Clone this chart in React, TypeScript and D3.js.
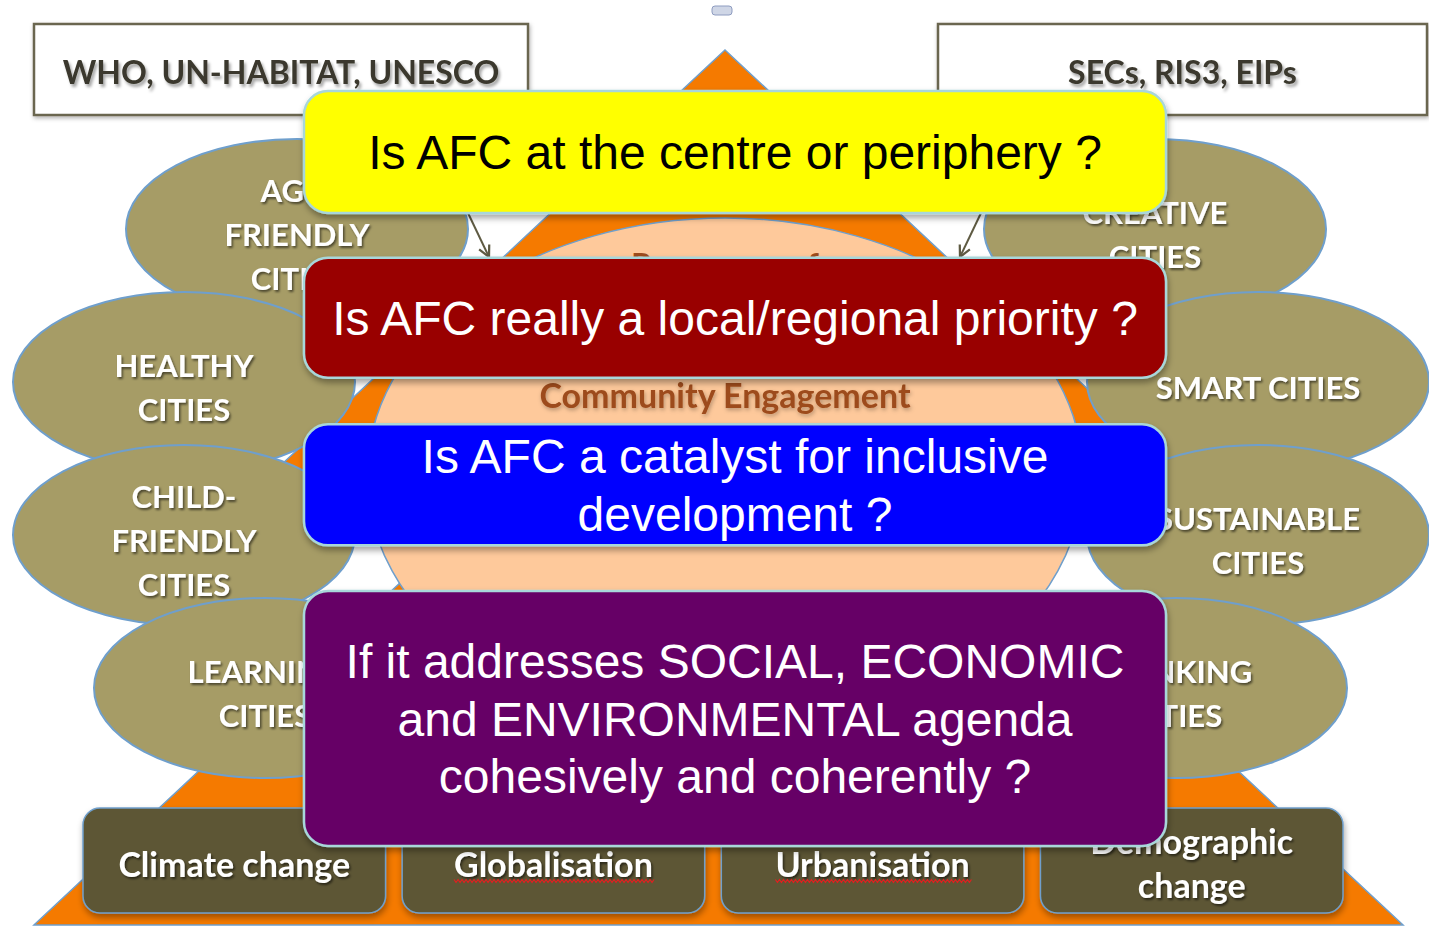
import React, { useEffect, useRef } from 'react';
import * as d3 from 'd3';

// Text
const topBodies = ['WHO, UN-HABITAT, UNESCO', 'SECs, RIS3, EIPs'];
const leftCities = [['AGE-', 'FRIENDLY', 'CITIES'], ['HEALTHY', 'CITIES'], ['CHILD-', 'FRIENDLY', 'CITIES'], ['LEARNING', 'CITIES']];
const rightCities = [['CREATIVE', 'CITIES'], ['SMART CITIES'], ['SUSTAINABLE', 'CITIES'], ['THINKING', 'CITIES']];
const coreHeading = 'Resources of';
const coreLabel = 'Community Engagement';
const questions = [
  ['Is AFC at the centre or periphery ?'],
  ['Is AFC really a local/regional priority ?'],
  ['Is AFC a catalyst for inclusive', 'development ?'],
  ['If it addresses SOCIAL, ECONOMIC', 'and ENVIRONMENTAL agenda', 'cohesively and coherently ?'],
];
const drivers = [['Climate change'], ['Globalisation'], ['Urbanisation'], ['Demographic', 'change']];
const misspelt = ['Globalisation', 'Urbanisation'];

// Layout + styling (kept apart from the text above)
const W = 1429;
const H = 927;
const OLIVE = '#a69c66';
const EDGE = '#6f9fcc';
const ORANGE = '#f57a00';
const PEACH = '#fec99b';
const qFills = ['#ffff00', '#990000', '#0000ff', '#660066'];
const qText = ['#000000', '#ffffff', '#ffffff', '#ffffff'];
const qHeights = [122, 120, 121, 255];
const leftCx = [297, 184, 184, 265];
const rightCx = [1155, 1258, 1258, 1176];
const LABEL_FONT = 'Lato, "Open Sans", sans-serif';
const Q_FONT = '"Liberation Sans", Arial, sans-serif';

export default function App() {
  const ref = useRef<SVGSVGElement>(null);

  useEffect(() => {
    document.body.style.margin = '0';
    const svg = d3.select(ref.current);
    svg.selectAll('*').remove();

    const defs = svg.append('defs');
    const shadow = (id: string, dx: number, dy: number, sd: number, op: number) =>
      defs.append('filter').attr('id', id)
        .attr('x', '-20%').attr('y', '-40%').attr('width', '140%').attr('height', '180%')
        .append('feDropShadow')
        .attr('dx', dx).attr('dy', dy).attr('stdDeviation', sd)
        .attr('flood-color', '#000').attr('flood-opacity', op);
    shadow('txtShadow', 1.5, 2, 1.2, 0.55);
    shadow('darkTxtShadow', 2, 3, 1.8, 0.35);
    shadow('boxShadow', 1, 4, 3, 0.35);
    shadow('smallShadow', 1, 2, 2, 0.3);

    defs.append('marker').attr('id', 'arrowHead')
      .attr('viewBox', '0 0 10 10').attr('refX', 9).attr('refY', 5)
      .attr('markerWidth', 14).attr('markerHeight', 14).attr('markerUnits', 'userSpaceOnUse')
      .attr('orient', 'auto')
      .append('path').attr('d', 'M1,1 L9,5 L1,9')
      .attr('fill', 'none').attr('stroke', '#5e5a42').attr('stroke-width', 1.6);

    // tiny handle at the top of the slide
    svg.append('rect').attr('x', 712).attr('y', 6).attr('width', 20).attr('height', 9).attr('rx', 3)
      .attr('fill', '#cfd6e6').attr('stroke', '#8e9cc0').attr('stroke-width', 1);

    // orange pyramid (two overlapping triangles)
    const poly = d3.line();
    const slope = 1.07;
    const lowerTri: [number, number][] = [[718.5, 925 - 684.5 / slope], [1403, 925], [34, 925]];
    const upperTri: [number, number][] = [[725, 50], [725 + slope * 450, 500], [725 - slope * 450, 500]];
    [lowerTri, upperTri].forEach(pts => {
      svg.append('path').attr('d', poly(pts) + 'Z')
        .attr('fill', ORANGE).attr('stroke', EDGE).attr('stroke-width', 1.5);
    });

    // peach core
    svg.append('ellipse').attr('cx', 725).attr('cy', 476).attr('rx', 358).attr('ry', 258)
      .attr('fill', PEACH).attr('stroke', EDGE).attr('stroke-width', 1.5);
    // heading mostly hidden behind the red box
    svg.append('text').attr('x', 725).attr('y', 277).attr('text-anchor', 'middle')
      .style('font-family', LABEL_FONT).style('font-weight', 700).style('font-size', '33px')
      .attr('fill', '#9d4c1d').text(coreHeading);
    svg.append('text').attr('x', 725).attr('y', 408).attr('text-anchor', 'middle')
      .style('font-family', LABEL_FONT).style('font-weight', 700).style('font-size', '34px')
      .attr('fill', '#9d4c1d').attr('filter', 'url(#smallShadow)').text(coreLabel);

    // city ellipses, stacked in rows
    const yRow = d3.scalePoint<number>().domain([0, 1, 2, 3]).range([229, 688]);
    const drawColumn = (labels: string[][], cxs: number[]) => {
      labels.forEach((lines, i) => {
        const cy = yRow(i) as number;
        const g = svg.append('g');
        g.append('ellipse').attr('cx', cxs[i]).attr('cy', cy).attr('rx', 171).attr('ry', 90)
          .attr('fill', OLIVE).attr('stroke', EDGE).attr('stroke-width', 2);
        const lh = 44;
        const y0 = cy + 5 - (lh * (lines.length - 1)) / 2;
        lines.forEach((t, j) => {
          g.append('text').attr('x', cxs[i]).attr('y', y0 + j * lh)
            .attr('text-anchor', 'middle').attr('dominant-baseline', 'central')
            .style('font-family', LABEL_FONT).style('font-weight', 700).style('font-size', '31px')
            .attr('fill', '#ffffff').attr('filter', 'url(#txtShadow)').text(t);
        });
      });
    };
    drawColumn(leftCities, leftCx);
    drawColumn(rightCities, rightCx);

    // arrows from the bodies into the pyramid
    [[468, 213, 489, 257], [981, 213, 960, 257]].forEach(([x1, y1, x2, y2]) => {
      svg.append('line').attr('x1', x1).attr('y1', y1).attr('x2', x2).attr('y2', y2)
        .attr('stroke', '#5e5a42').attr('stroke-width', 2).attr('marker-end', 'url(#arrowHead)');
    });

    // top boxes
    const topX = [34, 938];
    const topW = [494, 489];
    topBodies.forEach((t, i) => {
      svg.append('rect').attr('x', topX[i]).attr('y', 24).attr('width', topW[i]).attr('height', 91)
        .attr('fill', '#ffffff').attr('stroke', '#6b6650').attr('stroke-width', 2.5)
        .attr('filter', 'url(#smallShadow)');
      svg.append('text').attr('x', topX[i] + topW[i] / 2).attr('y', 84)
        .attr('text-anchor', 'middle')
        .style('font-family', LABEL_FONT).style('font-weight', 700).style('font-size', '32px')
        .attr('fill', '#3b392d').attr('filter', 'url(#darkTxtShadow)').text(t);
    });

    // bottom driver boxes
    const xDrv = d3.scaleBand<number>().domain(d3.range(drivers.length)).range([83, 1343]).paddingInner(0.052);
    drivers.forEach((lines, i) => {
      const x = xDrv(i) as number;
      const bw = xDrv.bandwidth();
      svg.append('rect').attr('x', x).attr('y', 808).attr('width', bw).attr('height', 105).attr('rx', 17)
        .attr('fill', '#5d5736').attr('stroke', EDGE).attr('stroke-width', 1.5)
        .attr('filter', 'url(#boxShadow)');
      const lh = 44;
      const cy = lines.length > 1 ? 862 : 863;
      const y0 = cy - (lh * (lines.length - 1)) / 2;
      lines.forEach((t, j) => {
        const txt = svg.append('text').attr('x', x + bw / 2).attr('y', y0 + j * lh)
          .attr('text-anchor', 'middle').attr('dominant-baseline', 'central')
          .style('font-family', LABEL_FONT).style('font-weight', 700).style('font-size', '34px')
          .attr('fill', '#ffffff').attr('filter', 'url(#txtShadow)').text(t);
        if (misspelt.includes(t)) {
          const len = (txt.node() as SVGTextElement).getComputedTextLength();
          const sx = x + bw / 2 - len / 2;
          const yy = y0 + j * lh + 18;
          const pts: [number, number][] = d3.range(0, Math.ceil(len / 2) + 1).map(k => [sx + k * 2, yy + (k % 2 ? 1.5 : -1.5)]);
          svg.append('path').attr('d', d3.line()(pts)).attr('fill', 'none')
            .attr('stroke', '#e02020').attr('stroke-width', 1.2);
        }
      });
    });

    // question boxes
    const qTop = d3.scaleLinear().domain([0, 3]).range([91, 591]);
    questions.forEach((lines, i) => {
      const y = qTop(i);
      const h = qHeights[i];
      svg.append('rect').attr('x', 304).attr('y', y).attr('width', 862).attr('height', h).attr('rx', 24)
        .attr('fill', qFills[i]).attr('stroke', '#a8d6da').attr('stroke-width', 2.5)
        .attr('filter', 'url(#boxShadow)');
      const lh = 57.5;
      const cy = y + h / 2;
      const y0 = cy - (lh * (lines.length - 1)) / 2;
      lines.forEach((t, j) => {
        svg.append('text').attr('x', 735).attr('y', y0 + j * lh + 17)
          .attr('text-anchor', 'middle')
          .style('font-family', Q_FONT).style('font-size', '48px')
          .attr('fill', qText[i]).text(t);
      });
    });
  }, []);

  return <svg ref={ref} width={W} height={H} style={{ display: 'block', background: '#ffffff' }} />;
}
